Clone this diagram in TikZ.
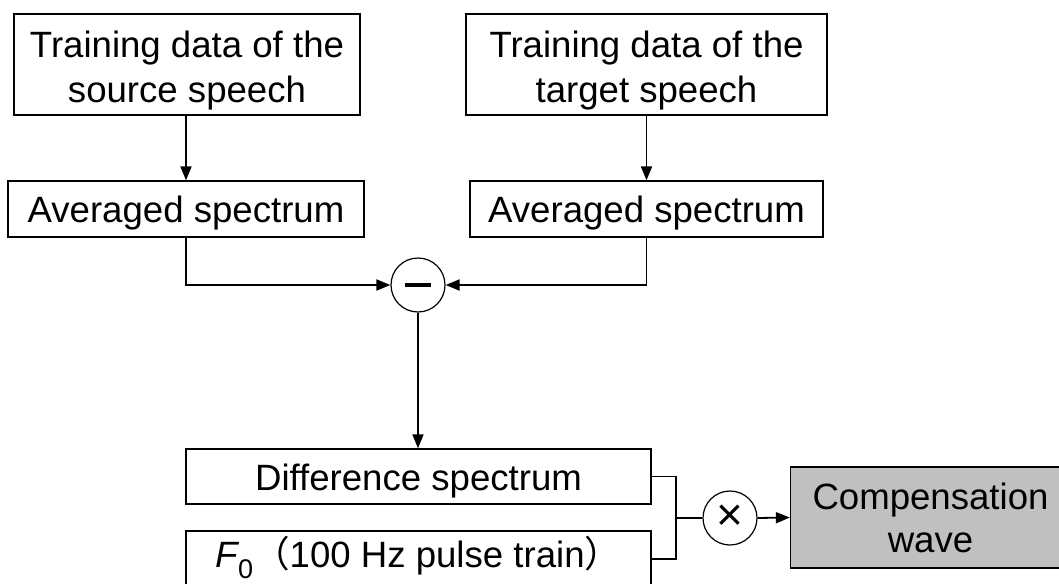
\documentclass[tikz,border=0pt]{standalone}
\usepackage{fontspec}
\setmainfont{Liberation Sans}
\newfontfamily\cjkfont{Noto Sans CJK SC}
\usetikzlibrary{arrows.meta}

% invisible strut that lowers the lines inside a box
\newcommand{\boxstrut}[1]{\rule{0pt}{#1}}

\begin{document}
\begin{tikzpicture}[x=1pt,y=-1pt,
  box/.style={draw, line width=1.3pt, inner sep=0pt, align=center,
    font=\fontsize{36.6}{45}\selectfont},
  oneline/.style={box, text height=35pt, text depth=7.7pt},
  op/.style={draw, circle, line width=1.2pt, inner sep=0pt, minimum size=54pt},
  arr/.style={line width=1.8pt, -{Triangle[length=14pt,width=11pt]}},
  link/.style={line width=1.2pt}]
\useasboundingbox (0,0) rectangle (1059,583);
\clip (0,0) rectangle (1059,583);

% input data and averaged spectra
\node[box, minimum width=346pt, minimum height=101pt] (src) at (187,64.5)
  {\boxstrut{38pt}Training data of the\\source speech};
\node[box, minimum width=361pt, minimum height=101pt] (tgt) at (646.5,64.5)
  {\boxstrut{38pt}Training data of the\\target speech};
\node[oneline, minimum width=356pt, minimum height=56pt] (avgS) at (186,209)
  {Averaged spectrum};
\node[oneline, minimum width=353pt, minimum height=56pt] (avgT) at (646.5,209)
  {Averaged spectrum};

% subtraction
\node[op] (minus) at (418,285) {};
\draw[line width=4pt] ([xshift=-13pt]minus.center) -- ([xshift=13pt]minus.center);

% difference spectrum and pulse train
\node[oneline, minimum width=465pt, minimum height=55pt] (diff) at (418.5,476.5)
  {Difference spectrum};
\node[box, text height=30pt, text depth=14pt, minimum width=465pt,
  minimum height=56pt] (f0) at (418.5,559)
  {{\itshape F}\raisebox{-11pt}{\fontsize{27}{27}\selectfont 0}{\cjkfont （}100 Hz pulse train{\cjkfont ）}};

% multiplication and output
\node[op, font=\fontsize{46}{46}\selectfont] (mul) at (730,518) {×};
\node[box, font=\fontsize{36.6}{43}\selectfont,
  fill={rgb,255:red,192;green,192;blue,192}, minimum width=280pt,
  minimum height=101pt] (comp) at (930.5,517.5) {Compensation\\wave};

\coordinate (j) at (676,518);

% connectors
\draw[arr] (avgS.north |- src.south) -- (avgS.north);
\draw[arr] (avgT.north |- tgt.south) -- (avgT.north);
\draw[arr] (avgS.south) |- (minus.west);
\draw[arr] (avgT.south) |- (minus.east);
\draw[arr] (minus.south) -- (minus.south |- diff.north);
\draw[link] (diff.east) -| (j) |- (f0.east);
\draw[link] (j) -- (mul.west);
\draw[arr] (mul.east) -- (comp.west);
\end{tikzpicture}
\end{document}
